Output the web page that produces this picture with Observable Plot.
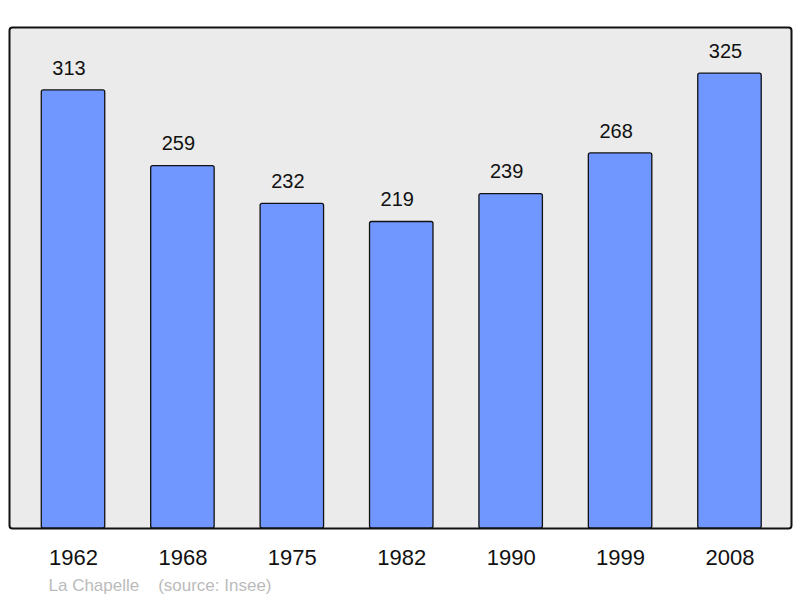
<!DOCTYPE html>
<html>
<head>
<meta charset="utf-8">
<script src="https://cdn.jsdelivr.net/npm/d3@7"></script>
<script src="https://cdn.jsdelivr.net/npm/@observablehq/plot@0.6"></script>
<style>
  html, body { margin: 0; padding: 0; background: #fff; }
  svg { display: block; }
</style>
</head>
<body>
<div id="chart"></div>
<script>
const years = ["1962", "1968", "1975", "1982", "1990", "1999", "2008"];
const population = [313, 259, 232, 219, 239, 268, 325];
const caption = "La Chapelle    (source: Insee)";

const data = years.map((year, i) => ({year, value: population[i]}));

const chart = Plot.plot({
  width: 800,
  height: 598,
  marginLeft: 9,
  marginRight: 9,
  marginTop: 27,
  marginBottom: 70,
  style: {fontFamily: "'Liberation Sans', Arial, sans-serif", background: "#fff"},
  x: {domain: years, paddingInner: 0.42, paddingOuter: 0.21, insetLeft: 9.3, insetRight: 6.8, round: false, label: null},
  y: {domain: [0, 358], axis: null},
  marks: [
    Plot.frame({fill: "#ebebeb", stroke: "#111", strokeWidth: 2, rx: 3}),
    Plot.barY(data, {x: "year", y: "value", fill: "#7096ff", stroke: "#111", strokeWidth: 1.3, rx: 2}),
    Plot.text(data, {x: "year", y: "value", text: d => String(d.value), dx: -4.5, dy: -22, lineAnchor: "middle", fontSize: 20, fill: "#111"}),
    Plot.axisX({tickSize: 0, tickPadding: 21, fontSize: 22, color: "#111", label: null}),
    Plot.text([caption], {text: d => d, frameAnchor: "bottom-left", dx: 39, dy: 57, textAnchor: "start", lineAnchor: "middle", fontSize: 17, fill: "#bbbbbb"})
  ]
});
document.getElementById("chart").append(chart);
</script>
</body>
</html>
